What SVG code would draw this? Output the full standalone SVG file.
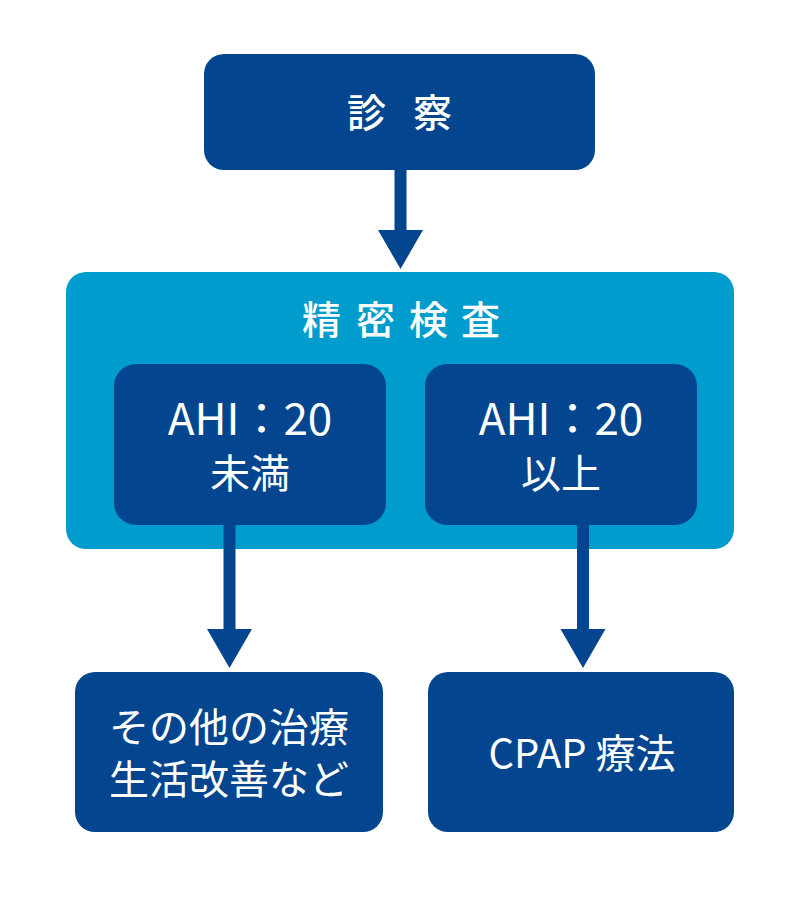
<svg xmlns="http://www.w3.org/2000/svg" width="800" height="900" viewBox="0 0 800 900">
<style>
.dark{fill:#03468F}
.light{fill:#009CCE}
text{fill:#fff;font-family:"Noto Sans CJK JP","Noto Sans",sans-serif;dominant-baseline:central}
.t{font-size:39px;font-weight:500}
.b{font-size:40px;text-anchor:middle}
.a{font-size:44px;text-anchor:middle}
</style>
<g id="shinsatsu">
<rect class="dark" x="204" y="54" width="391" height="116" rx="20"/>
<text class="t" x="347 413" y="110">診察</text>
</g>
<g id="seimitsu">
<rect class="light" x="66" y="272" width="668" height="277" rx="20"/>
<text class="t" x="302 356 409 461" y="317">精密検査</text>
</g>
<g id="ahi-lt">
<rect class="dark" x="114" y="364" width="272" height="161" rx="22"/>
<text class="a" x="250" y="416">AHI：20</text>
<text class="b" x="250" y="471">未満</text>
</g>
<g id="ahi-ge">
<rect class="dark" x="425" y="364" width="272" height="161" rx="22"/>
<text class="a" x="561" y="416">AHI：20</text>
<text class="b" x="561" y="471">以上</text>
</g>
<g id="other">
<rect class="dark" x="75" y="672" width="308" height="160" rx="20"/>
<text class="b" x="229" y="725">その他の治療</text>
<text class="b" x="229" y="777">生活改善など</text>
</g>
<g id="cpap">
<rect class="dark" x="428" y="672" width="306" height="160" rx="20"/>
<text class="b" x="582" y="751">CPAP 療法</text>
</g>
<g id="connectors" class="dark">
<polygon points="394.5,170 406.5,170 406.5,230 423,230 400.5,269 378,230 394.5,230"/>
<polygon points="223.5,525 235.5,525 235.5,629 252,629 229.5,668 207,629 223.5,629"/>
<polygon points="577,525 589,525 589,629 605.5,629 583,668 560.5,629 577,629"/>
</g>
</svg>
